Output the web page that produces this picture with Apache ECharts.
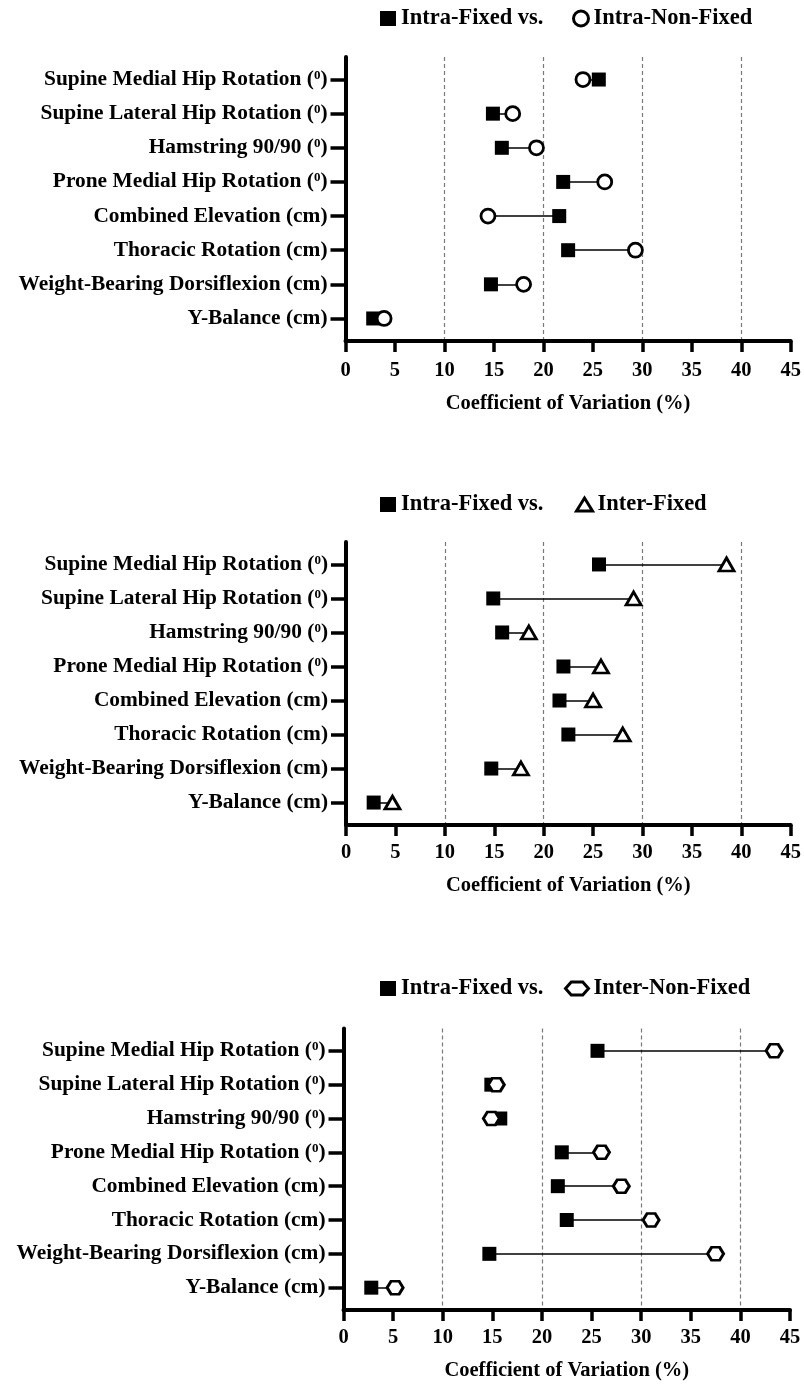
<!DOCTYPE html>
<html>
<head>
<meta charset="utf-8">
<script src="https://cdn.jsdelivr.net/npm/echarts@6/dist/echarts.min.js"></script>
<style>
  html, body { margin: 0; padding: 0; background: #fff; }
  #chart { width: 804px; height: 1385px; }
</style>
</head>
<body>
<div id="chart"></div>
<script>
// ---------------- data ----------------
const categories = [
  'Supine Medial Hip Rotation (⁰)',
  'Supine Lateral Hip Rotation (⁰)',
  'Hamstring 90/90 (⁰)',
  'Prone Medial Hip Rotation (⁰)',
  'Combined Elevation (cm)',
  'Thoracic Rotation (cm)',
  'Weight-Bearing Dorsiflexion (cm)',
  'Y-Balance (cm)'
];
const intraFixed    = [25.6, 14.9, 15.8, 22.0, 21.6, 22.5, 14.7, 2.8];
const intraNonFixed = [24.0, 16.9, 19.3, 26.2, 14.4, 29.3, 18.0, 3.9];
const interFixed    = [38.5, 29.1, 18.5, 25.8, 25.0, 28.0, 17.7, 4.7];
const interNonFixed = [43.4, 15.4, 14.9, 26.0, 28.0, 31.0, 37.5, 5.2];
const fixedName = 'Intra-Fixed vs.';
const compareNames = ['Intra-Non-Fixed', 'Inter-Fixed', 'Inter-Non-Fixed'];
const xAxisTitle = 'Coefficient of Variation (%)';
const xMin = 0, xMax = 45, xStep = 5, gridStep = 10;

// ---------------- styles ----------------
const FONT = "'Liberation Serif', 'Times New Roman', serif";
const HEX = 'path://M0,50 L25,0 L75,0 L100,50 L75,100 L25,100 Z';
const compareData = [intraNonFixed, interFixed, interNonFixed];
const compareSymbols = [
  { symbol: 'circle', size: 14 },
  { symbol: 'triangle', size: [15, 13] },
  { symbol: HEX, size: [16, 13] }
];
const legendIcons = [
  { icon: 'circle', w: 15, h: 15, left: 572 },
  { icon: 'triangle', w: 16, h: 13, left: 575 },
  { icon: HEX, w: 23, h: 13, left: 564 }
];
const grids = [
  { left: 345.5, right: 11, top: 57, height: 284 },
  { left: 346, right: 11, top: 542, height: 283 },
  { left: 343.5, right: 14, top: 1028.5, height: 281.5 }
];
const legendTops = [7, 493, 977];
const labelMargins = [19, 17, 17];
const nameGaps = [52, 50, 50];
const rowValues = categories.map((_, i) => i + 1);

const option = {
  backgroundColor: '#fff',
  animation: false,
  grid: grids,
  legend: [],
  xAxis: [],
  yAxis: [],
  series: []
};

const textBase = { fontFamily: FONT, fontWeight: 'bold', color: '#000' };

for (let p = 0; p < 3; p++) {
  // legends
  option.legend.push({
    left: 380, top: legendTops[p], padding: 0, selectedMode: false,
    itemWidth: 16, itemHeight: 15,
    textStyle: Object.assign({ fontSize: 22.5 }, textBase),
    data: [{ name: fixedName, icon: 'rect', itemStyle: { color: '#000', borderWidth: 0 } }]
  });
  option.legend.push({
    left: legendIcons[p].left, top: legendTops[p], padding: 0, selectedMode: false,
    itemWidth: legendIcons[p].w, itemHeight: legendIcons[p].h,
    symbolKeepAspect: false,
    textStyle: Object.assign({ fontSize: 22.5 }, textBase),
    data: [{ name: compareNames[p], icon: legendIcons[p].icon,
      itemStyle: { color: '#fff', borderColor: '#000', borderWidth: 3 } }]
  });

  // main x axis
  option.xAxis.push({
    gridIndex: p, type: 'value', min: xMin, max: xMax, interval: xStep, position: 'bottom',
    axisLine: { show: true, onZero: false, lineStyle: { color: '#000', width: 4 } },
    axisTick: { show: true, length: 11, lineStyle: { color: '#000', width: 3.5 } },
    axisLabel: Object.assign({ fontSize: 20.5, margin: labelMargins[p] }, textBase),
    splitLine: { show: false },
    name: xAxisTitle, nameLocation: 'middle', nameGap: nameGaps[p],
    nameTextStyle: Object.assign({ fontSize: 20.5 }, textBase)
  });
  // overlay axis for dashed reference lines
  option.xAxis.push({
    gridIndex: p, type: 'value', min: xMin, max: xMax, interval: gridStep, position: 'bottom',
    axisLine: { show: false }, axisTick: { show: false }, axisLabel: { show: false },
    splitLine: { show: true, showMinLine: false, showMaxLine: false,
      lineStyle: { color: '#7a7a7a', width: 1.2, type: [4, 3] } },
    z: 0
  });

  option.yAxis.push({
    gridIndex: p, type: 'value', min: 0.34, max: 8.66, inverse: true,
    axisLine: { show: true, onZero: false, lineStyle: { color: '#000', width: 4 } },
    axisTick: { show: true, length: 15, customValues: rowValues,
      lineStyle: { color: '#000', width: 3.5 } },
    axisLabel: Object.assign({
      fontSize: 21.4, margin: 18, customValues: rowValues,
      formatter: v => {
        const c = categories[Math.round(v) - 1];
        return c ? c.replace('⁰', '{sup|0}') : '';
      },
      rich: { sup: { fontFamily: FONT, fontWeight: 'bold', fontSize: 13, color: '#000', verticalAlign: 'top' } }
    }, textBase),
    splitLine: { show: false }
  });

  const other = compareData[p];
  option.series.push({
    type: 'lines', coordinateSystem: 'cartesian2d',
    xAxisIndex: 2 * p, yAxisIndex: p, silent: true, z: 2,
    lineStyle: { color: '#000', width: 1.5, opacity: 1 },
    data: intraFixed.map((v, i) => ({ coords: [[v, i + 1], [other[i], i + 1]] }))
  });
  option.series.push({
    name: fixedName, type: 'scatter', xAxisIndex: 2 * p, yAxisIndex: p, z: 3,
    symbol: 'rect', symbolSize: 14,
    itemStyle: { color: '#000', opacity: 1 },
    data: intraFixed.map((v, i) => [v, i + 1])
  });
  option.series.push({
    name: compareNames[p], type: 'scatter', xAxisIndex: 2 * p, yAxisIndex: p, z: 4,
    symbol: compareSymbols[p].symbol, symbolSize: compareSymbols[p].size,
    itemStyle: { color: '#fff', borderColor: '#000', borderWidth: 2.8, opacity: 1 },
    data: other.map((v, i) => [v, i + 1])
  });
}

const chart = echarts.init(document.getElementById('chart'), null, { renderer: 'canvas' });
chart.setOption(option);
</script>
</body>
</html>
